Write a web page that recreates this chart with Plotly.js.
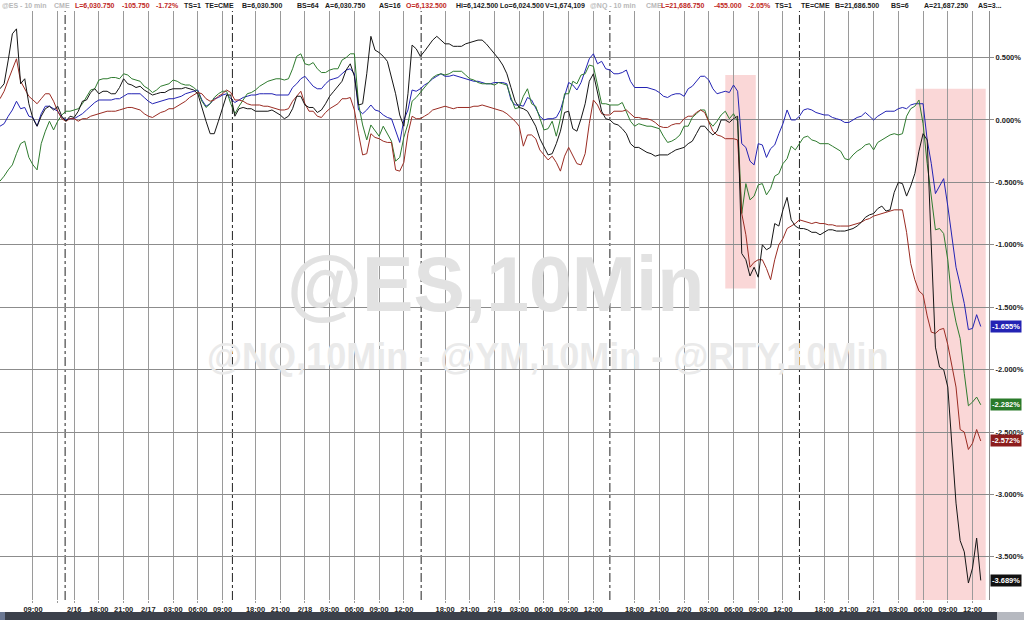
<!DOCTYPE html>
<html><head><meta charset="utf-8">
<script src="https://cdn.plot.ly/plotly-3.0.1.min.js"></script>
<style>html,body{margin:0;padding:0;background:#fff;overflow:hidden}#chart{width:1024px;height:620px}</style>
</head><body><div id="chart"></div>
<script>
// time grid: hours of plotted (session-compressed) time, one reading every half hour
const startHour = 0;
const stepHours = 0.5;

// % change series
const rtyPct = [ // black
0.25,0.29,0.48,0.69,0.73,0.29,0.33,0.13,0.01,-0.05,
0.03,0.09,0.11,0.08,0.11,0.03,-0.01,0.03,0.02,0.07,
0.15,0.16,0.22,0.25,0.21,0.23,0.23,0.21,0.21,0.26,
0.33,0.29,0.28,0.26,0.27,0.24,0.22,0.20,0.21,0.22,
0.22,0.24,0.25,0.25,0.25,0.26,0.25,0.24,0.21,0.09,
-0.01,-0.11,-0.11,-0.01,0.09,0.20,0.20,0.03,0.09,0.10,
0.09,0.09,0.07,0.07,0.07,0.07,0.08,0.06,0.04,0.01,
0.03,0.09,0.19,0.19,0.12,0.10,0.10,0.06,0.08,0.13,
0.19,0.23,0.27,
0.31,0.40,0.45,0.35,0.12,0.13,0.37,0.67,0.56,0.54,
0.51,0.47,0.33,0.21,0.04,-0.05,0.21,0.60,0.57,0.51,
0.55,0.60,0.64,0.67,0.64,0.61,0.61,0.59,0.59,0.59,
0.61,0.62,0.63,0.64,0.64,0.61,0.57,0.53,0.49,0.44,
0.37,0.26,0.15,0.10,0.09,0.07,0.01,-0.05,-0.15,-0.22,
-0.28,-0.27,-0.19,-0.09,0.06,0.07,-0.07,-0.09,0.01,0.13,
0.31,0.37,0.23,0.07,0.01,0.00,-0.03,-0.04,-0.07,-0.11,
-0.19,-0.22,-0.22,-0.24,-0.26,-0.27,-0.29,-0.28,-0.28,-0.28,
-0.26,-0.24,-0.23,
-0.22,-0.19,-0.17,-0.11,-0.05,-0.05,-0.09,-0.12,-0.09,0.00,
0.00,-0.02,0.01,0.03,-1.07,-1.12,-1.25,-1.18,-1.26,-1.00,
-1.04,-1.02,-0.83,-0.85,-0.72,-0.62,-0.80,-0.85,-0.87,-0.87,
-0.88,-0.90,-0.90,-0.92,-0.90,-0.88,-0.88,-0.89,-0.89,-0.89,
-0.88,-0.87,-0.85,-0.82,-0.78,-0.76,-0.75,-0.71,-0.69,-0.73,
-0.72,-0.58,-0.50,-0.51,-0.61,-0.53,-0.43,-0.25,-0.11,-0.16,
-1.01,-1.82,-1.98,-2.00,-2.14,-2.64,-3.07,-3.37,-3.46,-3.71,
-3.59,-3.35,-3.689];

const nqPct = [ // dark red
0.17,0.23,0.32,0.40,0.49,0.31,0.25,0.19,0.16,0.13,
0.17,0.21,0.21,0.15,0.07,0.01,-0.01,0.01,0.01,-0.01,
0.01,0.01,0.03,0.04,0.05,0.06,0.07,0.07,0.07,0.08,
0.09,0.10,0.10,0.09,0.08,0.05,0.03,0.02,0.04,0.06,
0.07,0.09,0.09,0.11,0.13,0.15,0.18,0.20,0.22,0.21,
0.17,0.15,0.16,0.19,0.21,0.24,0.22,0.16,0.16,0.15,
0.13,0.12,0.12,0.12,0.11,0.11,0.10,0.09,0.08,0.08,
0.09,0.15,0.19,0.23,0.13,0.07,0.07,0.03,0.02,0.06,
0.09,0.11,0.13,
0.17,0.17,0.18,0.08,-0.11,-0.28,-0.27,-0.11,-0.14,-0.15,
-0.17,-0.18,-0.18,-0.40,-0.41,-0.34,-0.11,0.03,0.01,0.01,
0.03,0.05,0.08,0.09,0.10,0.11,0.10,0.09,0.10,0.10,
0.10,0.10,0.11,0.11,0.12,0.11,0.10,0.09,0.08,0.07,
0.05,0.02,-0.01,-0.05,-0.21,-0.12,-0.12,-0.15,-0.24,-0.28,
-0.32,-0.29,-0.34,-0.41,-0.29,-0.22,-0.28,-0.35,-0.36,-0.27,
-0.03,0.16,0.12,0.05,0.04,0.04,0.07,0.07,0.07,0.08,
0.05,0.02,0.02,0.01,0.01,0.00,-0.02,-0.05,-0.06,-0.06,
-0.04,-0.03,-0.03,
0.01,0.03,0.03,0.06,0.08,0.06,-0.01,-0.09,-0.12,-0.13,
-0.15,-0.15,-0.15,-0.16,-0.75,-0.92,-1.18,-1.14,-1.12,-1.12,
-1.19,-1.28,-1.12,-1.00,-0.95,-0.87,-0.85,-0.83,-0.80,-0.81,
-0.82,-0.83,-0.82,-0.83,-0.83,-0.84,-0.84,-0.85,-0.85,-0.85,
-0.85,-0.84,-0.83,-0.82,-0.80,-0.79,-0.77,-0.76,-0.75,-0.74,
-0.73,-0.72,-0.72,-0.72,-0.90,-1.15,-1.28,-1.37,-1.40,-1.57,
-1.70,-1.71,-1.68,-1.67,-1.80,-1.96,-2.14,-2.48,-2.50,-2.64,
-2.59,-2.48,-2.572];

const ymPct = [ // blue
-0.05,-0.03,0.03,0.08,0.15,0.09,0.10,0.03,0.02,-0.05,
0.05,0.11,0.11,0.09,0.07,0.02,0.00,0.01,0.01,0.03,
0.05,0.08,0.11,0.14,0.16,0.16,0.16,0.16,0.17,0.17,
0.19,0.21,0.21,0.21,0.21,0.18,0.15,0.13,0.14,0.15,
0.16,0.17,0.17,0.18,0.19,0.21,0.22,0.23,0.24,0.16,
0.11,0.13,0.17,0.18,0.20,0.21,0.17,0.14,0.16,0.18,
0.19,0.20,0.20,0.21,0.21,0.21,0.21,0.20,0.20,0.20,
0.20,0.26,0.29,0.33,0.35,0.31,0.27,0.25,0.25,0.29,
0.32,0.33,0.34,
0.37,0.40,0.41,0.37,0.08,0.05,0.08,0.12,0.08,0.07,
0.04,0.02,0.01,-0.08,-0.18,0.00,0.08,0.24,0.23,0.25,
0.28,0.30,0.33,0.35,0.37,0.35,0.35,0.36,0.35,0.34,
0.33,0.32,0.31,0.31,0.30,0.29,0.29,0.30,0.30,0.30,
0.29,0.16,0.12,0.12,0.11,0.18,0.16,0.10,0.03,0.00,
0.01,0.01,0.02,0.08,0.20,0.30,0.28,0.24,0.30,0.39,
0.49,0.53,0.45,0.47,0.41,0.40,0.37,0.37,0.38,0.40,
0.31,0.26,0.26,0.26,0.26,0.25,0.24,0.22,0.19,0.18,
0.20,0.21,0.21,
0.19,0.25,0.27,0.31,0.35,0.35,0.32,0.25,0.21,0.22,
0.23,0.22,0.28,0.23,-0.19,-0.22,-0.33,-0.36,-0.19,-0.20,
-0.30,-0.23,-0.20,-0.11,-0.03,0.08,0.00,0.00,0.03,0.08,
0.09,0.08,0.06,0.05,0.04,0.04,0.02,0.01,0.00,-0.02,
-0.02,0.00,0.02,0.03,0.06,0.03,0.00,0.03,0.05,0.07,
0.07,0.07,0.09,0.10,0.09,0.12,0.13,0.13,0.13,-0.16,
-0.35,-0.59,-0.53,-0.47,-0.69,-0.93,-1.18,-1.32,-1.47,-1.68,
-1.67,-1.56,-1.655];

const esPct = [ // green
-0.49,-0.45,-0.40,-0.36,-0.27,-0.19,-0.17,-0.30,-0.36,-0.40,
-0.19,-0.09,-0.01,-0.08,-0.01,0.04,0.07,0.07,0.08,0.09,
0.13,0.19,0.24,0.25,0.32,0.33,0.33,0.34,0.34,0.33,
0.37,0.36,0.33,0.32,0.31,0.27,0.25,0.22,0.24,0.27,
0.28,0.29,0.32,0.31,0.29,0.28,0.28,0.26,0.23,0.15,
0.10,0.13,0.18,0.21,0.23,0.23,0.13,0.05,0.11,0.16,
0.21,0.22,0.24,0.27,0.29,0.31,0.32,0.33,0.33,0.32,
0.33,0.41,0.51,0.53,0.45,0.44,0.46,0.41,0.38,0.38,
0.40,0.41,0.41,
0.48,0.50,0.53,0.53,0.13,-0.04,-0.16,-0.04,-0.09,-0.13,
-0.05,-0.11,-0.17,-0.33,-0.30,-0.14,-0.03,0.15,0.18,0.22,
0.26,0.30,0.34,0.36,0.37,0.36,0.37,0.39,0.39,0.39,
0.36,0.33,0.32,0.30,0.29,0.29,0.29,0.28,0.30,0.29,
0.28,0.18,0.09,0.10,0.19,0.25,0.13,0.11,0.01,-0.08,
-0.07,-0.01,-0.13,0.01,0.21,0.21,0.31,0.29,0.36,0.37,
0.44,0.43,0.28,0.13,0.13,0.12,0.12,0.12,0.14,0.07,
-0.01,-0.05,-0.03,-0.04,-0.05,-0.05,-0.06,-0.07,-0.13,-0.18,
-0.17,-0.15,-0.12,
-0.05,-0.05,0.02,0.05,0.08,0.08,-0.01,-0.05,-0.01,0.04,
0.07,0.01,0.05,-0.01,-0.75,-0.51,-0.64,-0.61,-0.52,-0.51,
-0.60,-0.55,-0.45,-0.43,-0.35,-0.31,-0.21,-0.24,-0.19,-0.14,
-0.13,-0.16,-0.17,-0.19,-0.19,-0.19,-0.21,-0.23,-0.25,-0.31,
-0.32,-0.28,-0.25,-0.23,-0.20,-0.19,-0.24,-0.18,-0.16,-0.14,
-0.12,-0.11,-0.12,-0.11,0.03,0.09,0.11,0.16,-0.03,-0.35,
-0.64,-0.88,-0.87,-0.91,-1.12,-1.45,-1.62,-1.75,-2.03,-2.29,
-2.26,-2.22,-2.282];

// axis ticks
const tickHours = [4,7,9,12,15,18,21,24,27,31,34,37,40,43,46,49,54,57,60,63,66,69,72,77,80,83,86,89,92,95,100,103,106,109,112,115,118];
const tickLabels = ['09:00','','2/16','18:00','21:00','2/17','03:00','06:00','09:00','18:00','21:00','2/18','03:00','06:00','09:00','12:00','18:00','21:00','2/19','03:00','06:00','09:00','12:00','18:00','21:00','2/20','03:00','06:00','09:00','12:00','18:00','21:00','2/21','03:00','06:00','09:00','12:00'];
const sessionBreaks = [7.9, 28.2, 51.1, 74.0, 97.0];
const yTicks = [0.5,0,-0.5,-1,-1.5,-2,-2.5,-3,-3.5];
const yTickText = ['0.500%','0.000%','-0.500%','-1.000%','-1.500%','-2.000%','-2.500%','-3.000%','-3.500%'];
// highlighted windows [startHour, endHour, topPct, bottomPct]
const highlight1 = [88.0, 91.7, 0.36, -1.35];
const highlight2 = [111.1, 119.6, 0.25, null];
// last value tags
const lastVals = [-1.655, -2.282, -2.572, -3.689];
const lastColors = ['#2323b4', '#2a7a2a', '#8c1d1d', '#111111'];

const hours = rtyPct.map((_, i) => startHour + i * stepHours);

const W = 1024, H = 620, ML = 0, MR = 35, MT = 11, MB = 20;
const PW = W - ML - MR, PH = H - MT - MB;
const px = x => (x - ML) / PW;        // page x -> paper x
const py = y => (H - MB - y) / PH;    // page y -> paper y
const Y0 = -3.846, Y1 = 0.873;

const FONT = 'Liberation Sans, Arial, sans-serif';
const mk = (y, color, name) => ({x: hours, y: y, type: 'scatter', mode: 'lines', name: name,
  line: {color: color, width: 1}, hoverinfo: 'skip'});
const traces = [
  mk(ymPct, '#2323b4', '@YM'),
  mk(esPct, '#2e7b2e', '@ES'),
  mk(nqPct, '#9a2b22', '@NQ'),
  mk(rtyPct, '#151515', '@RTY')
];

const shapes = [];
shapes.push({type:'rect', layer:'below', xref:'x', yref:'y', x0:highlight1[0], x1:highlight1[1], y0:highlight1[3], y1:highlight1[2], fillcolor:'rgba(240,130,130,0.32)', line:{width:0}});
shapes.push({type:'rect', layer:'below', xref:'x', yref:'paper', x0:highlight2[0], x1:highlight2[1], y0:0, y1:(highlight2[2] - Y0) / (Y1 - Y0), fillcolor:'rgba(240,130,130,0.32)', line:{width:0}});
sessionBreaks.forEach(b => shapes.push({type:'line', layer:'below', xref:'x', yref:'paper', x0:b, x1:b, y0:0, y1:1, line:{color:'#222', width:1, dash:'dashdot'}}));
// bottom status bar
shapes.push({type:'rect', xref:'paper', yref:'paper', x0:px(0), x1:px(1024), y0:py(620), y1:py(612), fillcolor:'#3c414b', line:{width:0}});
shapes.push({type:'rect', xref:'paper', yref:'paper', x0:px(0), x1:px(5), y0:py(620), y1:py(612), fillcolor:'#6b7893', line:{width:0}});
shapes.push({type:'rect', xref:'paper', yref:'paper', x0:px(997), x1:px(1024), y0:py(620), y1:py(612), fillcolor:'#b6b9c0', line:{width:0}});

const RED = '#c0281e', GRAY = '#b8b8b8', DARK = '#1a1a1a';
const header = [
  ['@ES - 10 min', 0, GRAY], ['CME', 52, GRAY], ['L=6,030.750', 73, RED], ['-105.750', 120, RED], ['-1.72%', 154, RED],
  ['TS=1', 182, DARK], ['TE=CME', 203, DARK], ['B=6,030.500', 240, DARK], ['BS=64', 295, DARK], ['A=6,030.750', 323, DARK],
  ['AS=16', 377, DARK], ['O=6,132.500', 404, RED], ['Hi=6,142.500', 454, DARK], ['Lo=6,024.500', 498, DARK], ['V=1,674,109', 543, DARK],
  ['@NQ - 10 min', 588, GRAY], ['CME', 644, GRAY], ['L=21,686.750', 659, RED], ['-455.000', 712, RED], ['-2.05%', 746, RED],
  ['TS=1', 773, DARK], ['TE=CME', 799, DARK], ['B=21,686.500', 833, DARK], ['BS=6', 889, DARK], ['A=21,687.250', 922, DARK], ['AS=3...', 976, DARK]
];
const annotations = header.map(h => ({text: h[0], xref:'paper', yref:'paper', x: px(h[1]), y: py(5.5), xanchor:'left', yanchor:'middle',
  showarrow:false, font:{family:FONT, size:7, color:h[2], weight:'bold'}}));

annotations.push({text:'@ES,10Min', xref:'paper', yref:'paper', x:px(496), y:py(284), xanchor:'center', yanchor:'middle', showarrow:false,
  font:{family:FONT, size:77, color:'#e2e2e2', weight:'bold'}});
annotations.push({text:'@NQ,10Min - @YM,10Min - @RTY,10Min', xref:'paper', yref:'paper', x:px(547), y:py(356), xanchor:'center', yanchor:'middle', showarrow:false,
  font:{family:FONT, size:36, color:'#eaeaea', weight:'bold'}});

lastVals.forEach((v, i) => annotations.push({text: v.toFixed(3) + '%', xref:'paper', yref:'y', x:1, y:v, xanchor:'left', yanchor:'middle', xshift:1,
  showarrow:false, bgcolor:lastColors[i], borderpad:1, font:{family:FONT, size:7.5, color:'#ffffff', weight:'bold'}}));

const layout = {
  width: W, height: H, margin: {l: ML, r: MR, t: MT, b: MB, pad: 0},
  paper_bgcolor: '#ffffff', plot_bgcolor: '#ffffff', showlegend: false,
  xaxis: {range: [0, 120], tickmode: 'array', tickvals: tickHours, ticktext: tickLabels, showgrid: true, gridcolor: '#9a9a9a', gridwidth: 1,
    zeroline: false, showline: false, ticks: 'outside', ticklen: 2, tickcolor: '#9a9a9a', tickangle: 0,
    tickfont: {family: FONT, size: 7.5, color: '#222', weight: 'bold'}, fixedrange: true},
  yaxis: {range: [Y0, Y1], side: 'right', tickmode: 'array', tickvals: yTicks, ticktext: yTickText, showgrid: true, gridcolor: '#8c8c8c', gridwidth: 1,
    zeroline: false, showline: true, linecolor: '#8c8c8c', ticks: 'outside', ticklen: 4, tickcolor: '#8c8c8c',
    tickfont: {family: FONT, size: 7.5, color: '#222', weight: 'bold'}, fixedrange: true},
  shapes: shapes, annotations: annotations
};
Plotly.newPlot('chart', traces, layout, {displayModeBar: false, staticPlot: true});
</script></body></html>
